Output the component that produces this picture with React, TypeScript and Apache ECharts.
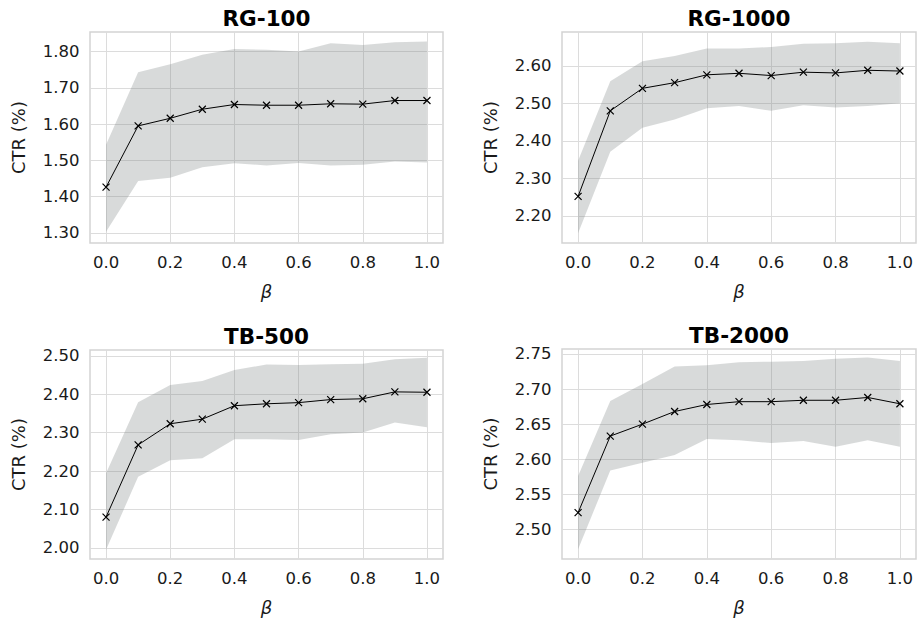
import React, { useEffect, useRef } from "react";
import * as echarts from "echarts";

const beta = [0, 0.1, 0.2, 0.3, 0.4, 0.5, 0.6, 0.7, 0.8, 0.9, 1.0];
const xTicks = [0, 0.2, 0.4, 0.6, 0.8, 1.0];
const xRange = [-0.05, 1.05];

const titles = ["RG-100", "RG-1000", "TB-500", "TB-2000"];

const rg100Mean = [1.426, 1.595, 1.616, 1.641, 1.654, 1.652, 1.652, 1.656, 1.655, 1.665, 1.665];
const rg100Upper = [1.543, 1.743, 1.765, 1.791, 1.807, 1.805, 1.8, 1.823, 1.818, 1.826, 1.828];
const rg100Lower = [1.303, 1.443, 1.452, 1.481, 1.492, 1.486, 1.493, 1.486, 1.488, 1.497, 1.494];

const rg1000Mean = [2.252, 2.48, 2.54, 2.555, 2.576, 2.58, 2.574, 2.583, 2.581, 2.588, 2.586];
const rg1000Upper = [2.347, 2.559, 2.612, 2.626, 2.646, 2.646, 2.65, 2.659, 2.66, 2.664, 2.66];
const rg1000Lower = [2.154, 2.371, 2.435, 2.457, 2.487, 2.493, 2.48, 2.495, 2.489, 2.493, 2.5];

const tb500Mean = [2.08, 2.268, 2.323, 2.335, 2.37, 2.375, 2.378, 2.386, 2.388, 2.406, 2.405];
const tb500Upper = [2.194, 2.379, 2.424, 2.434, 2.463, 2.477, 2.476, 2.478, 2.479, 2.491, 2.495];
const tb500Lower = [1.995, 2.185, 2.228, 2.233, 2.283, 2.283, 2.281, 2.296, 2.3, 2.326, 2.314];

const tb2000Mean = [2.524, 2.633, 2.65, 2.668, 2.678, 2.682, 2.682, 2.684, 2.684, 2.688, 2.679];
const tb2000Upper = [2.576, 2.683, 2.707, 2.732, 2.734, 2.738, 2.739, 2.74, 2.743, 2.745, 2.74];
const tb2000Lower = [2.472, 2.584, 2.595, 2.606, 2.629, 2.627, 2.623, 2.626, 2.618, 2.627, 2.618];

const rg100YTicks = [1.3, 1.4, 1.5, 1.6, 1.7, 1.8];
const rg1000YTicks = [2.2, 2.3, 2.4, 2.5, 2.6];
const tb500YTicks = [2.0, 2.1, 2.2, 2.3, 2.4, 2.5];
const tb2000YTicks = [2.5, 2.55, 2.6, 2.65, 2.7, 2.75];

const rg100YRange = [1.272, 1.854];
const rg1000YRange = [2.128, 2.69];
const tb500YRange = [1.971, 2.515];
const tb2000YRange = [2.458, 2.757];

const panels = [
  { mean: rg100Mean, upper: rg100Upper, lower: rg100Lower, ticks: rg100YTicks, range: rg100YRange },
  { mean: rg1000Mean, upper: rg1000Upper, lower: rg1000Lower, ticks: rg1000YTicks, range: rg1000YRange },
  { mean: tb500Mean, upper: tb500Upper, lower: tb500Lower, ticks: tb500YTicks, range: tb500YRange },
  { mean: tb2000Mean, upper: tb2000Upper, lower: tb2000Lower, ticks: tb2000YTicks, range: tb2000YRange },
];

const FONT = "'DejaVu Sans', sans-serif";
const TEXT = "#1a1a1a";

export default function App() {
  const ref = useRef<HTMLDivElement>(null);
  useEffect(() => {
    document.body.style.margin = "0";
    if (!ref.current) return;
    const chart = echarts.init(ref.current, undefined, { renderer: "svg" });

    const grids = [
      { left: 90, top: 32, width: 353, height: 211 },
      { left: 562, top: 32, width: 354, height: 211 },
      { left: 90, top: 350, width: 353, height: 209 },
      { left: 562, top: 349, width: 354, height: 210 },
    ];
    const titlePos = [
      [266.5, 18],
      [739, 18],
      [266.5, 336],
      [739, 335],
    ];

    const series: any[] = [];
    panels.forEach((p, i) => {
      series.push({
        type: "custom",
        xAxisIndex: i,
        yAxisIndex: i,
        data: beta.map((b, k) => [b, p.lower[k], p.upper[k]]),
        encode: { x: 0, y: [1, 2] },
        silent: true,
        z: 2,
        renderItem: (params: any, api: any) => {
          if (params.dataIndex !== 0) return null;
          const top = beta.map((b, k) => api.coord([b, p.upper[k]]));
          const bot = beta.map((b, k) => api.coord([b, p.lower[k]])).reverse();
          return {
            type: "polygon",
            shape: { points: top.concat(bot) },
            style: { fill: "rgba(125,132,132,0.3)" },
          };
        },
      });
      series.push({
        type: "line",
        xAxisIndex: i,
        yAxisIndex: i,
        data: beta.map((b, k) => [b, p.mean[k]]),
        symbol: "path://M0,0L10,10M0,10L10,0",
        symbolSize: 7,
        showAllSymbol: true,
        itemStyle: { color: "transparent", borderColor: "#000", borderWidth: 1.2 },
        lineStyle: { color: "#000", width: 1 },
        z: 3,
      });
    });

    chart.setOption({
      animation: false,
      grid: grids.map((g) => ({
        ...g,
        show: true,
        borderColor: "#d3d3d3",
        borderWidth: 1.5,
        backgroundColor: "transparent",
        containLabel: false,
      })),
      xAxis: grids.map((_, i) => ({
        type: "value",
        gridIndex: i,
        min: xRange[0],
        max: xRange[1],
        name: "β",
        nameLocation: "middle",
        nameGap: 39,
        nameTextStyle: { fontFamily: FONT, fontSize: 18, fontStyle: "italic", color: TEXT },
        axisLine: { show: false },
        axisTick: { show: false, customValues: xTicks },
        axisLabel: {
          customValues: xTicks,
          formatter: (v: number) => v.toFixed(1),
          fontFamily: FONT,
          fontSize: 16.5,
          color: TEXT,
          margin: 11,
        },
        splitLine: { show: true, lineStyle: { color: "#dcdcdc", width: 1 } },
      })),
      yAxis: panels.map((p, i) => ({
        type: "value",
        gridIndex: i,
        min: p.range[0],
        max: p.range[1],
        name: "CTR (%)",
        nameLocation: "middle",
        nameGap: 63,
        nameRotate: 90,
        nameTextStyle: { fontFamily: FONT, fontSize: 18, color: TEXT },
        axisLine: { show: false },
        axisTick: { show: false, customValues: p.ticks },
        axisLabel: {
          customValues: p.ticks,
          formatter: (v: number) => v.toFixed(2),
          fontFamily: FONT,
          fontSize: 16.5,
          color: TEXT,
          margin: 10.5,
        },
        splitLine: { show: true, lineStyle: { color: "#dcdcdc", width: 1 } },
      })),
      graphic: titles.map((t, i) => ({
        type: "text",
        x: titlePos[i][0],
        y: titlePos[i][1],
        style: {
          text: t,
          font: `bold 21.5px ${FONT}`,
          fill: "#000",
          textAlign: "center",
          textVerticalAlign: "middle",
        },
      })),
      series,
    });
    return () => chart.dispose();
  }, []);
  return <div ref={ref} style={{ width: 919, height: 621 }} />;
}
